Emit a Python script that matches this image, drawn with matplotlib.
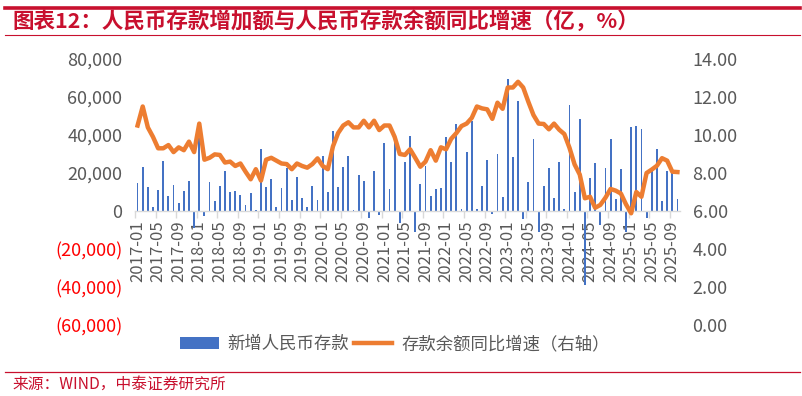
import matplotlib
matplotlib.use("Agg")
import matplotlib.pyplot as plt
from matplotlib.patches import Patch
from matplotlib.lines import Line2D
from matplotlib.ticker import FixedLocator, FuncFormatter
import numpy as np

plt.rcParams['font.family'] = ['Noto Sans CJK SC', 'DejaVu Sans']

# ---------------- data ----------------
years = list(range(2017, 2026))
months = [f"{y}-{m:02d}" for y in years for m in range(1, 13)][:106]  # 2017-01 .. 2025-10

new_deposits = [
    # 2017
    14900, 23100, 12400, 2300, 11000, 26300, 7700, 13500, 4000, 10500, 15800, -9000,
    # 2018
    38500, -2800, 15100, 5100, 13000, 21000, 10200, 10700, 8600, 3300, 9300, 700,
    # 2019
    32400, 12800, 17000, 2300, 11900, 22800, 6000, 17900, 7000, 1900, 13000, 5800,
    # 2020
    28900, 9800, 41900, 12500, 23000, 28900, 500, 19100, 15800, -3700, 20900, -2000,
    # 2021
    35600, 11400, 37700, -6300, 26000, 39300, -11000, 14000, 23700, 7900, 11700, 12100,
    # 2022
    38800, 25800, 45600, 900, 30900, 47400, 900, 13200, 26800, -1800, 29800, 7500,
    # 2023
    69600, 28600, 57900, -4400, 15100, 37700, -10900, 13000, 22600, 7000, 26000, 1000,
    # 2024
    55600, 9800, 48400, -39000, 17200, 25200, -7400, 22600, 37900, 6300, 22000, -10900,
    # 2025
    44000, 44900, 43100, -3900, 21000, 32600, 5400, 21000, 20200, 6100,
]

growth_yoy = [
    # 2017
    10.5, 11.5, 10.4, 9.9, 9.3, 9.3, 9.47, 9.1, 9.35, 9.2, 9.65, 9.1,
    # 2018
    10.6, 8.7, 8.8, 8.98, 8.95, 8.55, 8.6, 8.37, 8.5, 8.07, 7.67, 8.2,
    # 2019
    7.6, 8.7, 8.8, 8.65, 8.5, 8.47, 8.2, 8.5, 8.37, 8.28, 8.47, 8.77,
    # 2020
    8.37, 8.2, 9.4, 10.1, 10.5, 10.67, 10.4, 10.4, 10.75, 10.4, 10.75, 10.26,
    # 2021
    10.5, 10.5, 9.9, 9.0, 8.95, 9.25, 8.8, 8.33, 8.6, 9.2, 8.65, 9.35,
    # 2022
    9.25, 9.8, 10.1, 10.47, 10.6, 10.9, 11.5, 11.4, 11.35, 10.85, 11.7, 11.38,
    # 2023
    12.5, 12.5, 12.8, 12.5, 11.75, 11.05, 10.6, 10.58, 10.3, 10.6, 10.28, 10.05,
    # 2024
    9.33, 8.45, 7.92, 6.67, 6.75, 6.17, 6.32, 6.7, 7.16, 7.07, 6.92, 6.35,
    # 2025
    5.88, 7.0, 6.75, 8.0, 8.18, 8.38, 8.78, 8.65, 8.07, 8.05,
]

left_ticks = [-60000, -40000, -20000, 0, 20000, 40000, 60000, 80000]
right_ticks = [0, 2, 4, 6, 8, 10, 12, 14]

title = "图表12：人民币存款增加额与人民币存款余额同比增速（亿，%）"
source = "来源：WIND，中泰证券研究所"
bar_label = "新增人民币存款"
line_label = "存款余额同比增速（右轴）"

BLUE = "#4472C4"
ORANGE = "#ED7D31"
RED = "#C8102E"
GREY = "#595959"

# ---------------- figure ----------------
fig = plt.figure(figsize=(8.03, 3.96), dpi=100)
W, H = 803, 396
ax = fig.add_axes([135 / W, 1 - 325 / H, 545 / W, 266 / H])
ax2 = ax.twinx()

x = np.arange(len(months))
ax.bar(x, new_deposits, width=0.36, color=BLUE, zorder=2)
ax2.plot(x, growth_yoy, color=ORANGE, lw=3.2, solid_joinstyle='round', zorder=3)

ax.set_xlim(-0.5, len(months) - 0.5)
ax.set_ylim(-60000, 80000)
ax2.set_ylim(0, 14)

# left axis
ax.yaxis.set_major_locator(FixedLocator(left_ticks))
ax.yaxis.set_major_formatter(FuncFormatter(
    lambda v, p: f"({abs(int(v)):,})" if v < 0 else f"{int(v):,}"))
ax.tick_params(axis='y', length=0, labelsize=13, pad=9)
for lab, v in zip(ax.get_yticklabels(), left_ticks):
    lab.set_color('#FF0000' if v < 0 else GREY)

# right axis
ax2.yaxis.set_major_locator(FixedLocator(right_ticks))
ax2.yaxis.set_major_formatter(FuncFormatter(lambda v, p: f"{v:.2f}"))
ax2.tick_params(axis='y', length=0, labelsize=13, labelcolor=GREY, pad=9)

# x axis at zero
for a in (ax, ax2):
    for s in ('top', 'left', 'right'):
        a.spines[s].set_visible(False)
ax2.spines['bottom'].set_visible(False)
ax.spines['bottom'].set_position(('data', 0))
ax.spines['bottom'].set_color('#D9D9D9')
ax.spines['bottom'].set_linewidth(1.0)

label_idx = list(range(0, len(months), 4))
ax.set_xticks(label_idx)
ax.set_xticklabels([months[i] for i in label_idx], rotation=90, fontsize=12, color=GREY)
ax.set_xticks([i - 0.5 for i in label_idx], minor=True)
ax.tick_params(axis='x', which='major', length=0, pad=7)
ax.tick_params(axis='x', which='minor', length=5, color='#D9D9D9', width=1)
ax.set_zorder(ax2.get_zorder() - 1)
ax.patch.set_visible(False)

# legend
handles = [Patch(facecolor=BLUE, edgecolor='none'),
           Line2D([0], [0], color=ORANGE, lw=3.2)]
fig.legend(handles, [bar_label, line_label], loc='center', ncol=2,
           bbox_to_anchor=(395 / W, 1 - 344 / H), frameon=False,
           fontsize=12.5, labelcolor=GREY, handlelength=2.2, handleheight=0.7,
           columnspacing=0.3, handletextpad=0.5)

# title block
fig.add_artist(Line2D([5 / W, 800 / W], [1 - 8 / H, 1 - 8 / H], color=RED, lw=2.6))
fig.add_artist(Line2D([5 / W, 800 / W], [1 - 35 / H, 1 - 35 / H], color=RED, lw=0.8))
fig.text(12 / W, 1 - 21 / H, title, color=RED, fontsize=15.5, fontweight='bold',
         ha='left', va='center')

# footer
fig.add_artist(Line2D([5 / W, 800 / W], [1 - 372 / H, 1 - 372 / H], color=RED, lw=0.9))
fig.text(12 / W, 1 - 384 / H, source, color=RED, fontsize=11.3, ha='left', va='center')

fig.savefig("out.png", dpi=100)
